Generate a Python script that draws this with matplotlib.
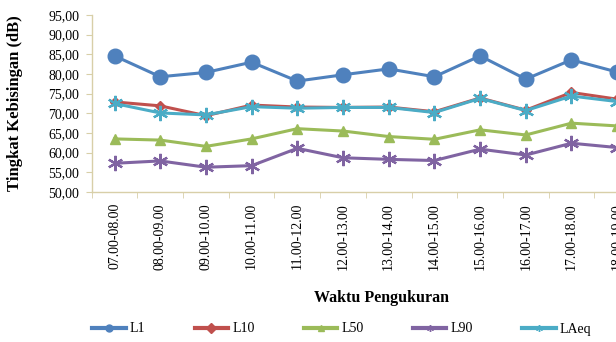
import matplotlib
matplotlib.use("Agg")
import matplotlib.pyplot as plt
from matplotlib.ticker import FuncFormatter, FixedLocator

categories = ["07.00-08.00", "08.00-09.00", "09.00-10.00", "10.00-11.00",
              "11.00-12.00", "12.00-13.00", "13.00-14.00", "14.00-15.00",
              "15.00-16.00", "16.00-17.00", "17.00-18.00", "18.00-19.00"]
L1 = [84.6, 79.3, 80.4, 83.0, 78.2, 79.8, 81.3, 79.3, 84.6, 78.7, 83.6, 80.5]
L10 = [72.9, 71.9, 69.4, 72.1, 71.6, 71.5, 71.6, 70.4, 73.9, 70.8, 75.3, 73.6]
L50 = [63.5, 63.2, 61.6, 63.5, 66.1, 65.5, 64.1, 63.4, 65.8, 64.5, 67.5, 66.8]
L90 = [57.3, 57.9, 56.3, 56.7, 61.1, 58.7, 58.3, 58.0, 60.9, 59.4, 62.4, 61.3]
LAeq = [72.5, 70.1, 69.6, 71.7, 71.3, 71.5, 71.5, 70.2, 73.8, 70.7, 74.4, 73.0]
series_names = ["L1", "L10", "L50", "L90", "LAeq"]
y_ticks = [50, 55, 60, 65, 70, 75, 80, 85, 90, 95]

W, H = 616, 342
fig = plt.figure(figsize=(W / 100, H / 100), dpi=100)
plt.rcParams['font.family'] = ['Liberation Serif', 'DejaVu Serif']

left_px, right_px, top_px, bot_px = 91.7, 640.0, 15.0, 192.0
ax = fig.add_axes([left_px / W, 1 - bot_px / H, (right_px - left_px) / W, (bot_px - top_px) / H])

x = list(range(len(categories)))
star = (6, 2, 0)
styles = [
    dict(color="#4F81BD", marker="o", ms=10.5),
    dict(color="#C0504D", marker="D", ms=5.5),
    dict(color="#9BBB59", marker="^", ms=7),
    dict(color="#8064A2", marker=star, ms=11, mew=1.6),
    dict(color="#4BACC6", marker=star, ms=11, mew=1.6),
]
lines = []
for vals, name, st in zip([L1, L10, L50, L90, LAeq], series_names, styles):
    st = dict(st)
    mew = st.pop("mew", 1.0)
    ln, = ax.plot(x, vals, lw=2.2, label=name, markeredgewidth=mew,
                  markeredgecolor=st["color"], markerfacecolor=st["color"],
                  clip_on=False, **st)
    lines.append(ln)

axis_col = "#D8CFA8"
ax.set_ylim(50, 95)
ax.set_xlim(-0.5, len(categories) - 0.5)
ax.yaxis.set_major_locator(FixedLocator(y_ticks))
ax.yaxis.set_major_formatter(FuncFormatter(lambda v, p: f"{v:.2f}".replace(".", ",")))
ax.set_xticks(x)
ax.set_xticklabels(categories, rotation=90, fontsize=10)
ax.xaxis.set_minor_locator(FixedLocator([i - 0.5 for i in range(len(categories) + 1)]))
ax.tick_params(axis="x", which="major", length=0, pad=8)
ax.tick_params(axis="x", which="minor", length=4, color=axis_col, direction="out")
ax.tick_params(axis="y", length=4, color=axis_col, labelsize=10, pad=5)
for s in ["top", "right"]:
    ax.spines[s].set_visible(False)
for s in ["left", "bottom"]:
    ax.spines[s].set_color(axis_col)
    ax.spines[s].set_linewidth(1.0)

ax.set_ylabel("Tingkat Kebisingan (dB)", fontsize=12, fontweight="bold")
ax.yaxis.set_label_coords((23 - left_px) / (right_px - left_px), 0.5)
ax.set_xlabel("Waktu Pengukuran", fontsize=11.5, fontweight="bold")
ax.xaxis.set_label_coords((382 - left_px) / (right_px - left_px), -(290 - bot_px) / (bot_px - top_px))

leg_handles = []
for ln in lines:
    h, = ax.plot([], [], color=ln.get_color(), lw=3, marker=ln.get_marker(),
                 ms=5, markeredgecolor=ln.get_color(), markerfacecolor=ln.get_color(),
                 label=ln.get_label())
    leg_handles.append(h)
leg = fig.legend(handles=leg_handles, loc="center left", ncol=5,
                 bbox_to_anchor=(80 / W, 1 - 329 / H), frameon=False,
                 fontsize=10, handlelength=2.4, handletextpad=0.3,
                 columnspacing=3.55)

fig.savefig("out.png", dpi=100)
